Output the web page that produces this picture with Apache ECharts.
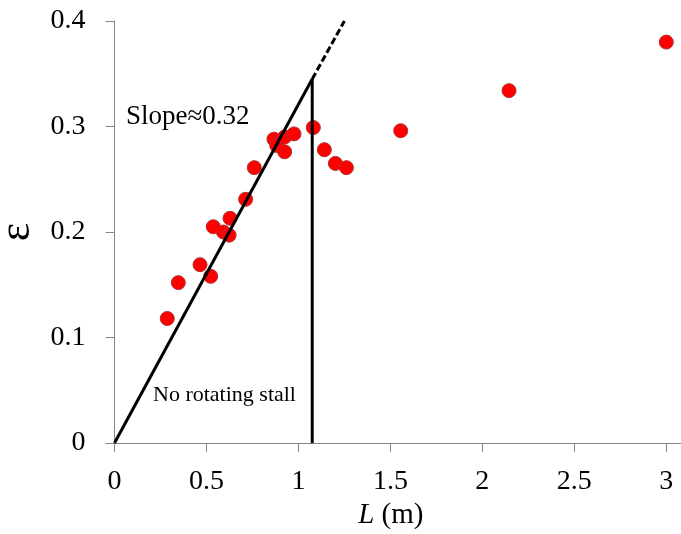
<!DOCTYPE html>
<html>
<head>
<meta charset="utf-8">
<script src="https://cdn.jsdelivr.net/npm/echarts@6/dist/echarts.min.js"></script>
<style>
html,body{margin:0;padding:0;background:#fff;}
#chart{width:681px;height:534px;}
</style>
</head>
<body>
<div id="chart"></div>
<script>
// Measured data: length L (m) vs epsilon
const lengthL = [0.287,0.347,0.465,0.523,0.537,0.592,0.623,0.628,0.713,0.760,0.867,0.882,0.925,0.925,0.976,1.081,1.141,1.201,1.261,1.556,2.145,3.0];
const epsilon = [0.118,0.152,0.169,0.158,0.205,0.200,0.197,0.213,0.231,0.261,0.288,0.282,0.290,0.276,0.293,0.299,0.278,0.265,0.261,0.296,0.334,0.380];
// Fitted line (slope ~0.32), its dashed extension and the stall boundary
const fitX = [0, 1.075];
const fitY = [0, 0.345];
const extX = [1.075, 1.25];
const extY = [0.345, 0.4];
const stallX = [1.075, 1.075];
const stallY = [0, 0.345];
// Tick labels
const xTicks = [0, 0.5, 1, 1.5, 2, 2.5, 3];
const yTicks = [0, 0.1, 0.2, 0.3, 0.4];

const zip = (a, b) => a.map((v, i) => [v, b[i]]);
const FONT = '"Liberation Serif", "Times New Roman", serif';

const chart = echarts.init(document.getElementById('chart'), null, {renderer: 'canvas'});
chart.setOption({
  animation: false,
  backgroundColor: '#ffffff',
  grid: {left: 114.5, right: 0, top: 21, bottom: 91, containLabel: false, outerBoundsMode: 'none'},
  xAxis: {
    type: 'value', min: 0, max: 3.08,
    name: '{i|L} (m)', nameLocation: 'middle', nameGap: 47,
    nameTextStyle: {fontFamily: FONT, fontSize: 29, color: '#000', padding: [0, 14, 0, 0],
      rich: {i: {fontFamily: FONT, fontSize: 29, fontStyle: 'italic', color: '#000'}}},
    axisLine: {show: true, lineStyle: {color: '#868686', width: 1}},
    axisTick: {show: true, inside: false, length: 9, customValues: xTicks, lineStyle: {color: '#868686'}},
    axisLabel: {customValues: xTicks, fontFamily: FONT, fontSize: 28, color: '#000', margin: 25,
      formatter: v => String(v)},
    splitLine: {show: false}
  },
  yAxis: {
    type: 'value', min: 0, max: 0.4, interval: 0.1,
    name: 'ε', nameLocation: 'middle', nameGap: 69, nameRotate: 90,
    nameTextStyle: {fontFamily: FONT, fontSize: 44, color: '#000'},
    axisLine: {show: true, lineStyle: {color: '#868686', width: 1}},
    axisTick: {show: true, inside: false, length: 9, customValues: yTicks, lineStyle: {color: '#868686'}},
    axisLabel: {customValues: yTicks, fontFamily: FONT, fontSize: 28, color: '#000', margin: 29,
      formatter: v => String(+v.toFixed(1))},
    splitLine: {show: false}
  },
  series: [
    {
      type: 'scatter', data: zip(lengthL, epsilon), symbol: 'circle', symbolSize: 14, z: 2,
      itemStyle: {color: '#ff0000', borderColor: '#b03030', borderWidth: 1, opacity: 1}
    },
    {
      type: 'line', data: zip(fitX, fitY), symbol: 'none', z: 3,
      lineStyle: {color: '#000', width: 3}
    },
    {
      type: 'line', data: zip(extX, extY), symbol: 'none', z: 3,
      lineStyle: {color: '#000', width: 3, type: [7, 3]}
    },
    {
      type: 'line', data: zip(stallX, stallY), symbol: 'none', z: 3,
      lineStyle: {color: '#000', width: 3}
    }
  ],
  graphic: [
    {type: 'text', left: 126, top: 103, z: 10,
      style: {text: 'Slope≈0.32', fontFamily: FONT, fontSize: 27, fill: '#000'}},
    {type: 'text', left: 153, top: 384, z: 10,
      style: {text: 'No rotating stall', fontFamily: FONT, fontSize: 22, fill: '#000'}}
  ]
});
</script>
</body>
</html>
